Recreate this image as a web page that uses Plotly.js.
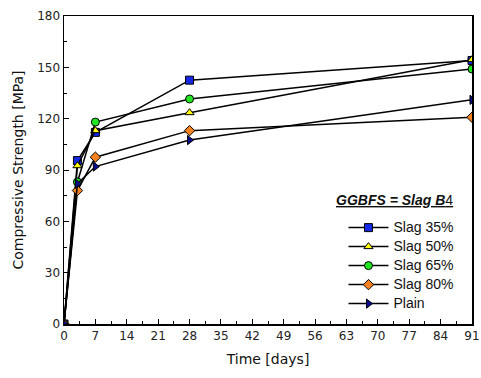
<!DOCTYPE html>
<html><head><meta charset="utf-8">
<script src="https://cdn.plot.ly/plotly-3.0.1.min.js"></script>
<style>html,body{margin:0;padding:0;background:#fff}</style>
</head><body><div id="c" style="width:481px;height:378px"></div>
<script>
const days = [0, 3, 7, 28, 91];
const slag35 = [0, 95.5, 112, 142.5, 154];
const slag50 = [0, 92.5, 113, 123.5, 154.5];
const slag65 = [0, 83, 118, 131.5, 149];
const slag80 = [0, 78, 97.5, 113, 120.8];
const plain  = [0, 82, 92, 107.5, 131];
const names = ['Slag 35%', 'Slag 50%', 'Slag 65%', 'Slag 80%', 'Plain'];
const series = [slag35, slag50, slag65, slag80, plain];
const colors = ['#1428e6', '#ffff00', '#22e622', '#f58220', '#0a0a8c'];
const symbols = ['square', 'triangle-up', 'circle', 'diamond', 'triangle-right'];
const xticks = [0,7,14,21,28,35,42,49,56,63,70,77,84,91];

const traces = series.map((y, i) => ({
  x: days, y: y, name: '<span style="font-size:14px">' + names[i] + '</span>',
  type: 'scatter', mode: 'lines+markers',
  line: {color: '#000', width: 1.5},
  marker: {symbol: symbols[i], color: colors[i], size: 8, line: {color: '#000', width: 1}}
}));

const axFont = {family: 'DejaVu Sans', size: 12, color: '#222'};
Plotly.newPlot('c', traces, {
  width: 481, height: 378,
  margin: {l: 64, r: 9, t: 16, b: 54},
  paper_bgcolor: '#fff', plot_bgcolor: '#fff',
  showlegend: true,
  legend: {
    x: 0.685, y: 0.36, xanchor: 'left', yanchor: 'top',
    font: {family: 'Liberation Sans', size: 12, color: '#111'},
    bgcolor: 'rgba(0,0,0,0)', tracegroupgap: 0, itemwidth: 40
  },
  annotations: [{
    xref: 'paper', yref: 'paper', x: 0.81, y: 0.403, xanchor: 'center', yanchor: 'middle',
    showarrow: false, text: '<u><b><i>GGBFS = Slag B</i></b>4</u>',
    font: {family: 'Liberation Sans', size: 14, color: '#111'}
  }],
  xaxis: {
    range: [0, 91], tickvals: xticks, ticktext: xticks.map(String),
    ticks: 'inside', ticklen: 5, tickwidth: 1, tickcolor: '#000',
    minor: {dtick: 3.5, tick0: 0, ticks: 'inside', ticklen: 3, tickcolor: '#000', showgrid: false},
    showline: true, linecolor: '#000', linewidth: 1.5, mirror: true,
    showgrid: false, zeroline: false, tickfont: axFont,
    title: {text: 'Time [days]', font: {family: 'DejaVu Sans', size: 14, color: '#111'}, standoff: 12}
  },
  yaxis: {
    range: [0, 180], tickvals: [0,30,60,90,120,150,180],
    ticks: 'inside', ticklen: 5, tickwidth: 1, tickcolor: '#000',
    minor: {dtick: 15, tick0: 0, ticks: 'inside', ticklen: 3, tickcolor: '#000', showgrid: false},
    showline: true, linecolor: '#000', linewidth: 1.5, mirror: true,
    showgrid: false, zeroline: false, tickfont: axFont,
    title: {text: 'Compressive Strength [MPa]', font: {family: 'DejaVu Sans', size: 14, color: '#111'}, standoff: 10}
  }
}, {displayModeBar: false, staticPlot: true});
</script></body></html>
